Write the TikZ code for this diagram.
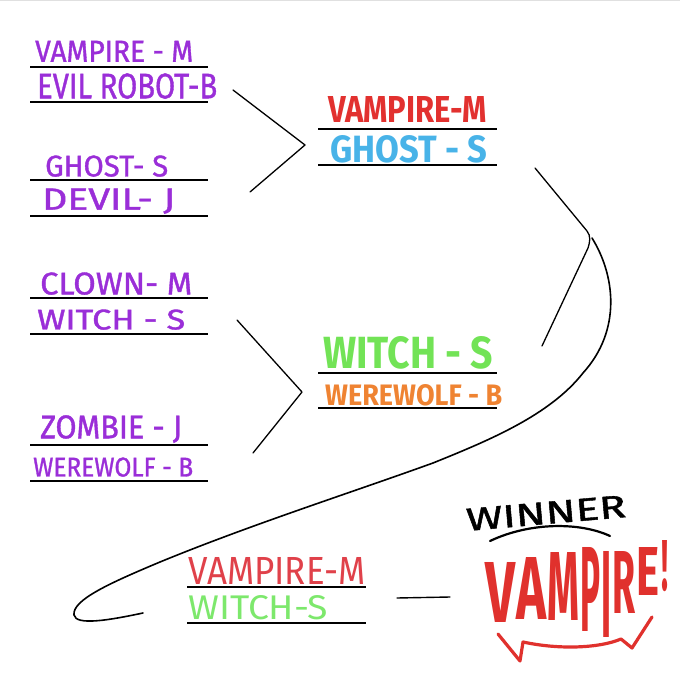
\documentclass[tikz,border=0pt]{standalone}
\usepackage{fontspec}
\setmainfont{Fira Sans}
\newfontfamily\purf{Fira Sans}[FakeBold=1.2]
\usepackage{graphicx}
\definecolor{pur}{HTML}{9A2ED8}
\definecolor{rred}{HTML}{E2312F}
\definecolor{rblue}{HTML}{48B3E8}
\definecolor{rgreen}{HTML}{72E356}
\definecolor{rorange}{HTML}{EF8332}
\definecolor{fred}{HTML}{E0414A}
\definecolor{fgreen}{HTML}{7DE86C}
\definecolor{vred}{HTML}{E0312D}
\newcommand{\fitt}[3]{\resizebox{#1pt}{#2pt}{#3}}
\tikzset{
  lbl/.style={inner sep=0pt, anchor=south west},
  plbl/.style={lbl, text=pur, font=\purf},
  vlet/.style={lbl, text=vred, font=\bfseries},
  rulel/.style={line width=2pt, black},
  brk/.style={line width=1.3pt, black, line cap=round, line join=round},
  fang/.style={line width=3.2pt, vred, line cap=round, line join=round},
}
\begin{document}
\begin{tikzpicture}[x=1pt,y=-1pt]
\useasboundingbox (0,0) rectangle (680,676);
\fill[white] (0,0) rectangle (680,676);
\draw[black!12, line width=1.5pt] (0,0.75) -- (680,0.75);

% round 1 lines
\foreach \yy in {67,102,180,216,298,334,445,481}
  \draw[rulel] (30,\yy) -- (208,\yy);
% round 2 lines
\foreach \yy in {129,165,373,408}
  \draw[rulel] (318,\yy) -- (497,\yy);
% final lines
\foreach \yy in {587,623}
  \draw[rulel] (187,\yy) -- (366,\yy);

% round 1 texts
\node[plbl] (m1a) at (35,62)  {\fitt{158}{21}{VAMPIRE - M}};
\node[plbl] (m1b) at (37,99)  {\fitt{180}{25}{EVIL ROBOT-B}};
\node[plbl] (m2a) at (45,177) {\fitt{123}{21}{GHOST- S}};
\node[plbl] (m2b) at (42,214) {\fitt{133}{21}{DEVIL- J}};
\node[plbl] (m3a) at (40,295) {\fitt{152}{22}{CLOWN- M}};
\node[plbl] (m3b) at (37,330) {\fitt{148}{20}{WITCH - S}};
\node[plbl] (m4a) at (40,443) {\fitt{142}{23}{ZOMBIE - J}};
\node[plbl] (m4b) at (33,477) {\fitt{160}{19}{WEREWOLF - B}};

% round 2 texts
\node[lbl, text=rred]    (s1a) at (328,123) {\fitt{159}{26}{\bfseries VAMPIRE-M}};
\node[lbl, text=rblue]   (s1b) at (330,163) {\fitt{157}{27}{\bfseries GHOST - S}};
\node[lbl, text=rgreen]  (s2a) at (323,369) {\fitt{170}{32}{\bfseries WITCH - S}};
\node[lbl, text=rorange] (s2b) at (325,406) {\fitt{177}{21}{\bfseries WEREWOLF - B}};

% final texts
\node[lbl, text=fred]   (f1a) at (188,585) {\fitt{177}{27}{VAMPIRE-M}};
\node[lbl, text=fgreen] (f1b) at (188,620) {\fitt{140}{24}{WITCH-S}};

% winner
\node[inner sep=0pt, rotate=5, font=\purf] (win) at (546,513) {\fitt{160}{22}{WINNER}};
\node[vlet] (cV) at (485,623) {\fitt{30}{60}{V}};
\node[vlet] (cA) at (516,620) {\fitt{30}{62}{A}};
\node[vlet] (cM) at (547,621) {\fitt{32}{68}{M}};
\node[vlet] (cP) at (580,632) {\fitt{20}{84}{P}};
\node[vlet] (cI) at (601,638) {\fitt{10}{86}{I}};
\node[vlet] (cR) at (612,614) {\fitt{23}{62}{R}};
\node[vlet] (cE) at (636,596) {\fitt{23}{48}{E}};
\node[vlet] (cX) at (661,592) {\fitt{7}{50}{!}};

% bracket coordinates
\coordinate (b1s) at (233,90);
\coordinate (b1t) at (305,145);
\coordinate (b1e) at (250,192);
\coordinate (b2s) at (237,320);
\coordinate (b2t) at (302,392);
\coordinate (b2e) at (253,453);
\coordinate (b3s) at (535,168);
\coordinate (b3t) at (587,231);
\coordinate (b3e) at (542,346);
\coordinate (c0) at (592,238);
\coordinate (c4) at (143,613);
\coordinate (fl1) at (397,598);
\coordinate (fl2) at (450,597);
\coordinate (u1) at (490,541);
\coordinate (u2) at (610,536);

\draw[brk] (b1s) -- (b1t) -- (b1e);
\draw[brk] (b2s) -- (b2t) -- (b2e);
\draw[brk] (b3s) -- (b3t) .. controls (591,236) and (590,242) .. (588,248) -- (b3e);
\draw[line width=1.6pt, line cap=round] (c0)
  .. controls (615,275) and (622,330) .. (583,373)
  .. controls (550,415) and (490,440) .. (433,463)
  .. controls (350,493) and (250,525) .. (160,562)
  .. controls (110,583) and (72,600) .. (74,615)
  .. controls (76,626) and (110,620) .. (c4);
\draw[line width=1.4pt, line cap=round] (fl1) -- (fl2);
\draw[line width=2.2pt, line cap=round] (u1) .. controls (530,522) and (580,522) .. (u2);

% fangs
\draw[fang] (498,634) -- (520,661) -- (523,642)
  .. controls (560,650) and (600,648) .. (621,639) -- (632,648) -- (652,617);
\end{tikzpicture}
\end{document}
